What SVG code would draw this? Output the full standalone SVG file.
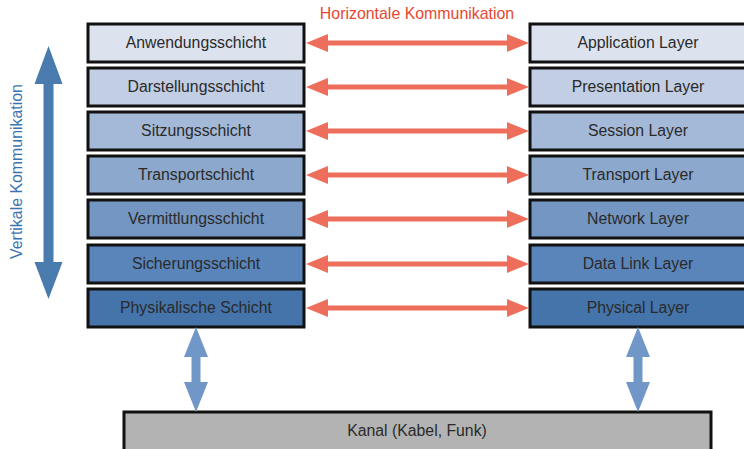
<svg xmlns="http://www.w3.org/2000/svg" width="744" height="449" viewBox="0 0 744 449">
  <style>
    .box { stroke: #111; stroke-width: 3; }
    .lbl { font-family: "Liberation Sans", Arial, sans-serif; font-size: 15.8px; fill: #2a2a2a; text-anchor: middle; }
    .l1 { fill: #dce3ef; } .l2 { fill: #c1cee4; } .l3 { fill: #a4b9d8; }
    .l4 { fill: #8da8cd; } .l5 { fill: #7496c3; } .l6 { fill: #5a85ba; } .l7 { fill: #4474aa; }
    .kanal { fill: #b3b3b3; }
    .harrow { fill: #ee6e5c; }
    .varrow { fill: #7097c8; }
    .cap { font-family: "Liberation Sans", Arial, sans-serif; font-size: 15.9px; text-anchor: middle; }
  </style>
  <defs>
    <!-- horizontal double arrow, 223 px long, centred on y=0 -->
    <path id="hdbl" d="M0,0 L22,-9 L22,-2.5 L201,-2.5 L201,-9 L223,0 L201,9 L201,2.5 L22,2.5 L22,9 Z"/>
    <!-- short vertical double arrow between physical layer and channel -->
    <path id="vdbl" d="M0,0 L12,30 L4.5,30 L4.5,55 L12,55 L0,85 L-12,55 L-4.5,55 L-4.5,30 L-12,30 Z"/>
  </defs>

  <rect width="744" height="449" fill="#ffffff"/>

  <!-- German layer stack -->
  <g id="de-anwendung"><rect class="box l1" x="88" y="24" width="216" height="38"/><text class="lbl" x="196" y="47.5">Anwendungsschicht</text></g>
  <g id="de-darstellung"><rect class="box l2" x="88" y="68" width="216" height="38"/><text class="lbl" x="196" y="91.5">Darstellungsschicht</text></g>
  <g id="de-sitzung"><rect class="box l3" x="88" y="112" width="216" height="38"/><text class="lbl" x="196" y="135.5">Sitzungsschicht</text></g>
  <g id="de-transport"><rect class="box l4" x="88" y="156" width="216" height="38"/><text class="lbl" x="196" y="179.5">Transportschicht</text></g>
  <g id="de-vermittlung"><rect class="box l5" x="88" y="200" width="216" height="38"/><text class="lbl" x="196" y="223.5">Vermittlungsschicht</text></g>
  <g id="de-sicherung"><rect class="box l6" x="88" y="245" width="216" height="38"/><text class="lbl" x="196" y="268.5">Sicherungsschicht</text></g>
  <g id="de-physikalisch"><rect class="box l7" x="88" y="289" width="216" height="38"/><text class="lbl" x="196" y="312.5">Physikalische Schicht</text></g>

  <!-- English layer stack -->
  <g id="en-application"><rect class="box l1" x="530" y="24" width="220" height="38"/><text class="lbl" x="638" y="47.5">Application Layer</text></g>
  <g id="en-presentation"><rect class="box l2" x="530" y="68" width="220" height="38"/><text class="lbl" x="638" y="91.5">Presentation Layer</text></g>
  <g id="en-session"><rect class="box l3" x="530" y="112" width="220" height="38"/><text class="lbl" x="638" y="135.5">Session Layer</text></g>
  <g id="en-transport"><rect class="box l4" x="530" y="156" width="220" height="38"/><text class="lbl" x="638" y="179.5">Transport Layer</text></g>
  <g id="en-network"><rect class="box l5" x="530" y="200" width="220" height="38"/><text class="lbl" x="638" y="223.5">Network Layer</text></g>
  <g id="en-datalink"><rect class="box l6" x="530" y="245" width="220" height="38"/><text class="lbl" x="638" y="268.5">Data Link Layer</text></g>
  <g id="en-physical"><rect class="box l7" x="530" y="289" width="220" height="38"/><text class="lbl" x="638" y="312.5">Physical Layer</text></g>

  <!-- channel -->
  <g id="kanal"><rect class="box kanal" x="124" y="412" width="587" height="40"/><text class="lbl" x="417" y="436">Kanal (Kabel, Funk)</text></g>

  <!-- connectors -->
  <g id="connectors">
    <use href="#hdbl" class="harrow" x="306" y="43"/>
    <use href="#hdbl" class="harrow" x="306" y="87"/>
    <use href="#hdbl" class="harrow" x="306" y="131"/>
    <use href="#hdbl" class="harrow" x="306" y="175"/>
    <use href="#hdbl" class="harrow" x="306" y="219"/>
    <use href="#hdbl" class="harrow" x="306" y="264"/>
    <use href="#hdbl" class="harrow" x="306" y="308"/>
    <use href="#vdbl" class="varrow" x="196" y="327"/>
    <use href="#vdbl" class="varrow" x="638" y="327"/>
    <!-- vertical communication arrow -->
    <path fill="#4a7baf" d="M48.5,46 L62.5,84 L53.5,84 L53.5,262 L62.5,262 L48.5,299 L34.5,262 L43.5,262 L43.5,84 L34.5,84 Z"/>
  </g>

  <!-- axis captions -->
  <text class="cap" x="417" y="19" fill="#e8472f">Horizontale Kommunikation</text>
  <text class="cap" transform="translate(21.5,171.5) rotate(-90)" fill="#3a73b0">Vertikale Kommunikation</text>
</svg>
